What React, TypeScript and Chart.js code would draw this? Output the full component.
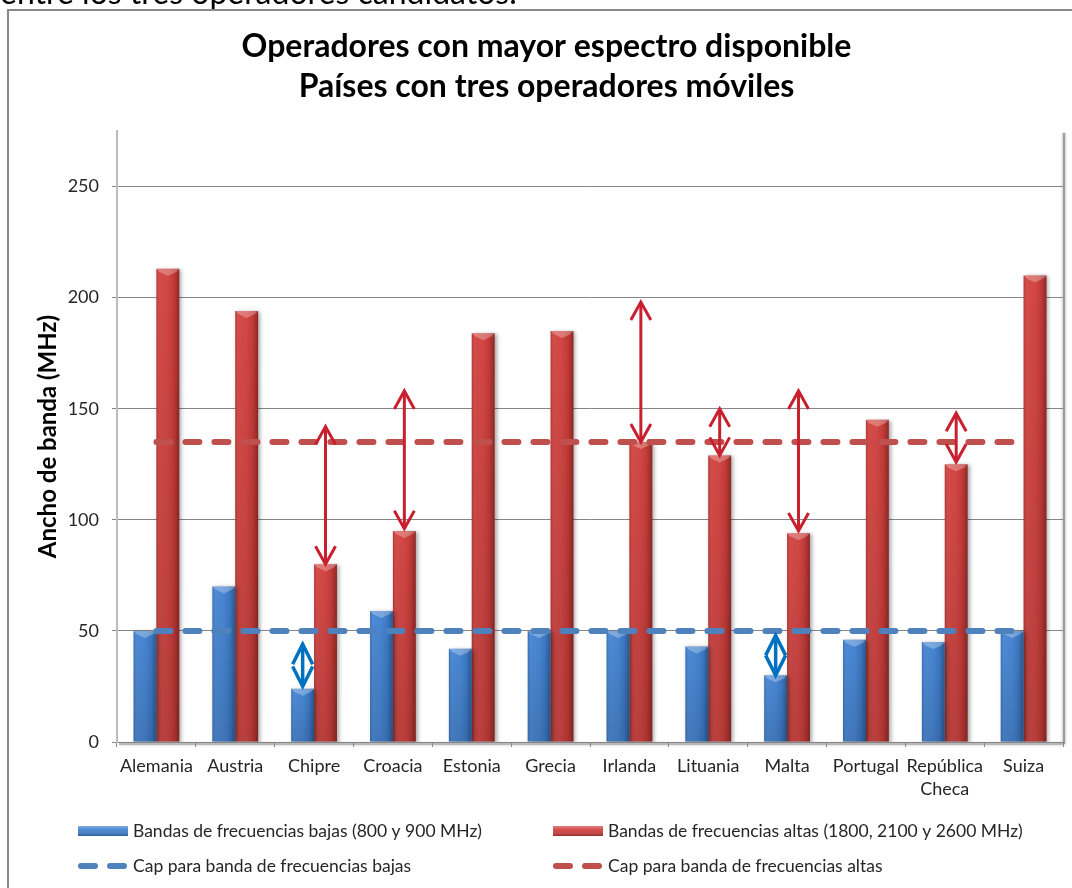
import React, { useEffect, useRef } from 'react';
import { Chart, registerables } from 'chart.js';

Chart.register(...registerables);

// ---------- data ----------
const categories: (string | string[])[] = [
  'Alemania', 'Austria', 'Chipre', 'Croacia', 'Estonia', 'Grecia',
  'Irlanda', 'Lituania', 'Malta', 'Portugal', ['República', 'Checa'], 'Suiza',
];
const lowBands = [50, 70, 24, 59, 42, 50, 50, 43, 30, 46, 45, 50];
const highBands = [213, 194, 80, 95, 184, 185, 135, 129, 94, 145, 125, 210];
const lowCap = [50, 50, 50, 50, 50, 50, 50, 50, 50, 50, 50, 50];
const highCap = [135, 135, 135, 135, 135, 135, 135, 135, 135, 135, 135, 135];

const seriesLabels = [
  'Bandas de frecuencias bajas (800 y 900 MHz)',
  'Bandas de frecuencias altas (1800, 2100 y 2600 MHz)',
  'Cap para banda de frecuencias bajas',
  'Cap para banda de frecuencias altas',
];

// gap arrows (category index, from value, to value)
const highGapIdx = [2, 3, 6, 7, 8, 10];
const highGapFrom = [80, 96, 135, 129, 95, 126];
const highGapTo = [142, 158, 198, 150, 158, 148];
const lowGapIdx = [2, 8];
const lowGapFrom = [25, 30];
const lowGapTo = [44, 48];

const yMax = 275;
const yStep = 50;
const yLastTick = 250;

const titleLines = ['Operadores con mayor espectro disponible', 'Países con tres operadores móviles'];
const yTitle = 'Ancho de banda (MHz)';
const leadText = 'entre los tres operadores candidatos.';

// ---------- styles ----------
const FONT = 'Lato, "Open Sans", "DejaVu Sans", sans-serif';
const BLUE = '#3f80d0';
const RED = '#cf3d3a';
const BLUE_CAP = '#4f81bd';
const RED_CAP = '#c0504d';
const RED_ARROW = '#c8202e';
const BLUE_ARROW = '#0070c0';
const TEXT = '#262626';

function shadeBar(ctx: CanvasRenderingContext2D, left: number, top: number, width: number, bottom: number) {
  const g = ctx.createLinearGradient(left, 0, left + width, 0);
  g.addColorStop(0, 'rgba(0,0,0,0.14)');
  g.addColorStop(0.12, 'rgba(255,255,255,0.08)');
  g.addColorStop(0.45, 'rgba(255,255,255,0.05)');
  g.addColorStop(0.78, 'rgba(0,0,0,0.08)');
  g.addColorStop(1, 'rgba(0,0,0,0.32)');
  ctx.fillStyle = g;
  ctx.fillRect(left, top, width, bottom - top);
  const v = ctx.createLinearGradient(0, top, 0, bottom);
  v.addColorStop(0, 'rgba(0,0,0,0)');
  v.addColorStop(1, 'rgba(0,0,0,0.12)');
  ctx.fillStyle = v;
  ctx.fillRect(left, top, width, bottom - top);
  // top bevel
  const h = Math.min(7, (bottom - top) / 2);
  ctx.beginPath();
  ctx.moveTo(left, top);
  ctx.lineTo(left + width, top);
  ctx.lineTo(left + width - 3, top + h * 0.45);
  ctx.lineTo(left + width / 2, top + h);
  ctx.lineTo(left + 3, top + h * 0.45);
  ctx.closePath();
  ctx.fillStyle = 'rgba(255,255,255,0.28)';
  ctx.fill();
}

function drawArrow(ctx: CanvasRenderingContext2D, x: number, yA: number, yB: number, color: string, lw: number, hw: number, hh: number) {
  const top = Math.min(yA, yB);
  const bot = Math.max(yA, yB);
  ctx.save();
  ctx.strokeStyle = color;
  ctx.lineWidth = lw;
  ctx.lineCap = 'butt';
  ctx.lineJoin = 'miter';
  ctx.beginPath();
  ctx.moveTo(x, top);
  ctx.lineTo(x, bot);
  ctx.stroke();
  ctx.beginPath();
  ctx.moveTo(x - hw, top + hh);
  ctx.lineTo(x, top);
  ctx.lineTo(x + hw, top + hh);
  ctx.stroke();
  ctx.beginPath();
  ctx.moveTo(x - hw, bot - hh);
  ctx.lineTo(x, bot);
  ctx.lineTo(x + hw, bot - hh);
  ctx.stroke();
  ctx.restore();
}

const decorPlugin = {
  id: 'decor',
  beforeDraw(chart: any) {
    const { ctx, width, height, chartArea } = chart;
    ctx.save();
    ctx.fillStyle = '#ffffff';
    ctx.fillRect(0, 0, width, height);
    // document text cut off above the chart
    ctx.fillStyle = '#000';
    ctx.font = `32px ${FONT}`;
    ctx.textBaseline = 'alphabetic';
    ctx.textAlign = 'left';
    ctx.fillText(leadText, 0, 4);
    // chart frame
    ctx.strokeStyle = '#8a8a8a';
    ctx.lineWidth = 2;
    ctx.beginPath();
    ctx.moveTo(8, height + 5);
    ctx.lineTo(8, 10);
    ctx.lineTo(width + 5, 10);
    ctx.stroke();
    // plot area shadow on the right and below the axis
    ctx.shadowColor = 'rgba(0,0,0,0.45)';
    ctx.shadowBlur = 3;
    ctx.strokeStyle = 'rgba(150,150,150,0.9)';
    ctx.lineWidth = 2;
    ctx.beginPath();
    ctx.moveTo(chartArea.right + 1, chartArea.top + 2);
    ctx.lineTo(chartArea.right + 1, chartArea.bottom + 2);
    ctx.stroke();
    ctx.strokeStyle = 'rgba(160,160,160,0.6)';
    ctx.beginPath();
    ctx.moveTo(chartArea.left + 2, chartArea.bottom + 2);
    ctx.lineTo(chartArea.right + 1, chartArea.bottom + 2);
    ctx.stroke();
    ctx.restore();
  },
  beforeDatasetDraw(chart: any, args: any) {
    if (args.meta.type !== 'bar') return;
    const ctx = chart.ctx;
    ctx.save();
    ctx.shadowColor = 'rgba(0,0,0,0.35)';
    ctx.shadowBlur = 4;
    ctx.shadowOffsetX = 2;
    ctx.shadowOffsetY = 1;
  },
  afterDatasetDraw(chart: any, args: any) {
    if (args.meta.type !== 'bar') return;
    const ctx = chart.ctx;
    ctx.restore();
    ctx.save();
    args.meta.data.forEach((el: any) => {
      const { x, y, base, width } = el.getProps(['x', 'y', 'base', 'width'], true);
      shadeBar(ctx, x - width / 2, y, width, base);
    });
    ctx.restore();
  },
  afterDatasetsDraw(chart: any) {
    const ctx = chart.ctx;
    const ys = chart.scales.y;
    const lowMeta = chart.getDatasetMeta(0);
    const highMeta = chart.getDatasetMeta(1);
    highGapIdx.forEach((ci, k) => {
      const x = highMeta.data[ci].x;
      drawArrow(ctx, x, ys.getPixelForValue(highGapFrom[k]), ys.getPixelForValue(highGapTo[k]), RED_ARROW, 3, 10, 18);
    });
    lowGapIdx.forEach((ci, k) => {
      const x = lowMeta.data[ci].x;
      drawArrow(ctx, x, ys.getPixelForValue(lowGapFrom[k]), ys.getPixelForValue(lowGapTo[k]), BLUE_ARROW, 3.5, 10, 20);
    });
  },
  afterDraw(chart: any) {
    const ctx = chart.ctx;
    const ds = chart.data.datasets;
    const cols = [78, 553];
    const rows = [831, 866];
    const items = [
      { kind: 'bar', color: BLUE, label: ds[0].label, x: cols[0], y: rows[0] },
      { kind: 'bar', color: RED, label: ds[1].label, x: cols[1], y: rows[0] },
      { kind: 'line', color: BLUE_CAP, label: ds[2].label, x: cols[0], y: rows[1] },
      { kind: 'line', color: RED_CAP, label: ds[3].label, x: cols[1], y: rows[1] },
    ];
    ctx.save();
    items.forEach((it) => {
      if (it.kind === 'bar') {
        ctx.fillStyle = it.color;
        ctx.fillRect(it.x, it.y - 5, 50, 10);
        const g = ctx.createLinearGradient(0, it.y - 5, 0, it.y + 5);
        g.addColorStop(0, 'rgba(255,255,255,0.35)');
        g.addColorStop(0.4, 'rgba(255,255,255,0.05)');
        g.addColorStop(1, 'rgba(0,0,0,0.3)');
        ctx.fillStyle = g;
        ctx.fillRect(it.x, it.y - 5, 50, 10);
      } else {
        ctx.strokeStyle = it.color;
        ctx.lineWidth = 6;
        ctx.lineCap = 'round';
        ctx.setLineDash([14, 15]);
        ctx.beginPath();
        ctx.moveTo(it.x + 3, it.y);
        ctx.lineTo(it.x + 47, it.y);
        ctx.stroke();
        ctx.setLineDash([]);
      }
      ctx.fillStyle = TEXT;
      ctx.font = `17.5px ${FONT}`;
      ctx.textBaseline = 'middle';
      ctx.textAlign = 'left';
      ctx.fillText(it.label, it.x + 55, it.y);
    });
    ctx.restore();
  },
};

export default function App() {
  const ref = useRef<HTMLCanvasElement | null>(null);

  useEffect(() => {
    document.body.style.margin = '0';
    const canvas = ref.current;
    if (!canvas) return;
    Chart.defaults.font.family = FONT;
    const chart = new Chart(canvas, {
      type: 'bar',
      data: {
        labels: categories,
        datasets: [
          { type: 'bar', label: seriesLabels[0], data: lowBands, backgroundColor: BLUE, borderWidth: 0, order: 2 },
          { type: 'bar', label: seriesLabels[1], data: highBands, backgroundColor: RED, borderWidth: 0, order: 2 },
          {
            type: 'line', label: seriesLabels[2], data: lowCap, borderColor: BLUE_CAP, borderWidth: 6,
            borderDash: [14, 15], borderCapStyle: 'round', pointRadius: 0, fill: false, tension: 0, order: 1,
          },
          {
            type: 'line', label: seriesLabels[3], data: highCap, borderColor: RED_CAP, borderWidth: 6,
            borderDash: [14, 15], borderCapStyle: 'round', pointRadius: 0, fill: false, tension: 0, order: 1,
          },
        ],
      } as any,
      options: {
        responsive: false,
        animation: false,
        devicePixelRatio: 1,
        layout: { padding: { left: 30, right: 9, top: 0, bottom: 86 } },
        datasets: { bar: { categoryPercentage: 0.58, barPercentage: 1 } },
        plugins: {
          legend: { display: false },
          tooltip: { enabled: false },
          title: {
            display: true,
            text: titleLines,
            color: '#000',
            font: { family: FONT, size: 32, weight: 'bold', lineHeight: 40 / 32 },
            padding: { top: 27, bottom: 24 },
          },
        },
        scales: {
          x: {
            offset: true,
            grid: { offset: true, drawOnChartArea: false, drawTicks: true, tickLength: 5, color: '#868686' },
            border: { color: '#868686', width: 1 },
            ticks: {
              color: TEXT, font: { family: FONT, size: 18, lineHeight: 1.3 }, padding: 7,
              maxRotation: 0, autoSkip: false,
            },
            afterFit: (s: any) => { s.height = 60; },
          },
          y: {
            min: 0,
            max: yMax,
            ticks: { stepSize: yStep, color: TEXT, font: { family: FONT, size: 18 }, padding: 13 },
            grid: { color: '#868686', tickLength: 5, drawTicks: true },
            border: { color: '#bdbdbd', width: 2 },
            afterBuildTicks: (s: any) => { s.ticks = s.ticks.filter((t: any) => t.value <= yLastTick); },
            afterFit: (s: any) => { s.width = 87; },
            title: {
              display: true, text: yTitle, color: '#000',
              font: { family: FONT, size: 24, weight: 'bold' }, padding: { top: 4, bottom: 0 },
            },
          },
        },
      } as any,
      plugins: [decorPlugin],
    });
    return () => chart.destroy();
  }, []);

  return <canvas ref={ref} width={1072} height={888} style={{ display: 'block' }} />;
}
